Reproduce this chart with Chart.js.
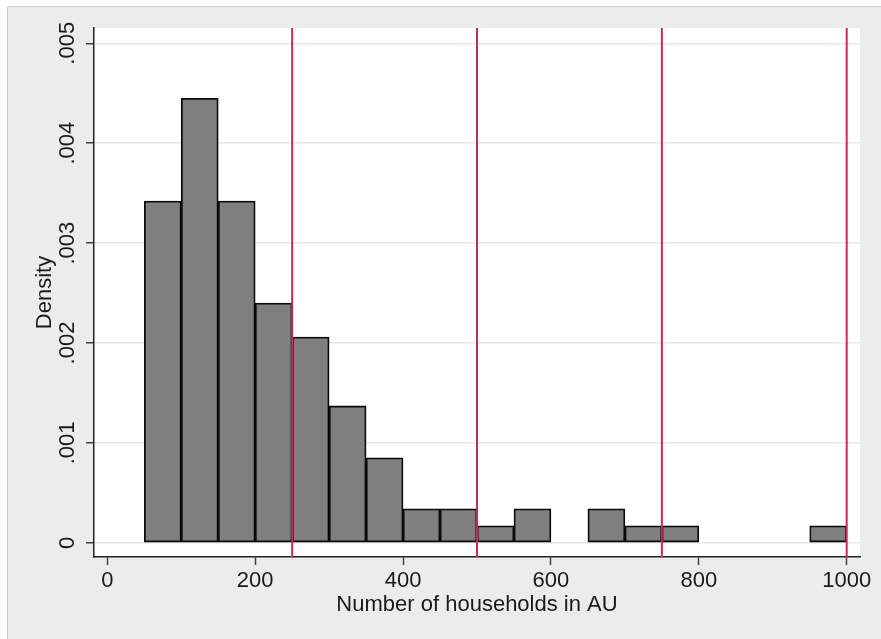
<!DOCTYPE html>
<html>
<head>
<meta charset="utf-8">
<script src="https://cdn.jsdelivr.net/npm/chart.js@4/dist/chart.umd.min.js"></script>
<style>
  html, body { margin: 0; padding: 0; background: #fff; }
  canvas { display: block; }
</style>
</head>
<body>
<canvas id="hist" width="881" height="639"></canvas>
<script>
// histogram bins (left edge, width 50) and their densities
const binLeft = [50, 100, 150, 200, 250, 300, 350, 400, 450, 500, 550, 600, 650, 700, 750, 800, 850, 900, 950];
const binWidth = 50;
const densities = [0.00342, 0.00445, 0.00342, 0.00240, 0.00206, 0.00137, 0.00085, 0.00034, 0.00034, 0.00017, 0.00034, 0, 0.00034, 0.00017, 0.00017, 0, 0, 0, 0.00017];

// vertical reference lines
const cutLines = [250, 500, 750, 1000];

// axes
const xTickValues = [0, 200, 400, 600, 800, 1000];
const xTickLabels = ['0', '200', '400', '600', '800', '1000'];
const yTickValues = [0, 0.001, 0.002, 0.003, 0.004, 0.005];
const yTickLabels = ['0', '.001', '.002', '.003', '.004', '.005'];

const FONT = '"Liberation Sans", Arial, Helvetica, sans-serif';
const TXT = '#1a1a1a';
const FSIZE = 22;
Chart.defaults.font.family = FONT;
Chart.defaults.color = TXT;

// gray frame + white plot region
const backdrop = {
    id: 'backdrop',
    beforeDraw(chart) {
        const {ctx, chartArea: a, width, height} = chart;
        ctx.save();
        ctx.fillStyle = '#fff';
        ctx.fillRect(0, 0, width, height);
        ctx.fillStyle = '#ececec';
        ctx.fillRect(7, 6, width - 7, height - 6);
        ctx.strokeStyle = '#cdcdcd';
        ctx.lineWidth = 1;
        ctx.beginPath();
        ctx.moveTo(7.5, height);
        ctx.lineTo(7.5, 6.5);
        ctx.lineTo(width, 6.5);
        ctx.stroke();
        ctx.fillStyle = '#fff';
        ctx.fillRect(a.left, a.top, a.right - a.left, a.bottom - a.top);
        ctx.restore();
    }
};

// red cut lines + rotated y tick labels
const overlay = {
    id: 'overlay',
    afterDatasetsDraw(chart) {
        const {ctx, chartArea: a, scales} = chart;
        ctx.save();
        ctx.strokeStyle = '#c8285a';
        ctx.lineWidth = 2;
        cutLines.forEach(v => {
            const px = scales.x.getPixelForValue(v);
            ctx.beginPath();
            ctx.moveTo(px, a.top);
            ctx.lineTo(px, a.bottom);
            ctx.stroke();
        });
        ctx.restore();
    },
    afterDraw(chart) {
        const {ctx, scales} = chart;
        const y = scales.y;
        ctx.save();
        ctx.fillStyle = TXT;
        ctx.font = FSIZE + 'px ' + FONT;
        ctx.textAlign = 'center';
        ctx.textBaseline = 'middle';
        yTickValues.forEach((v, i) => {
            ctx.save();
            ctx.translate(y.right - 26, y.getPixelForValue(v));
            ctx.rotate(-Math.PI / 2);
            ctx.fillText(yTickLabels[i], 0, 0);
            ctx.restore();
        });
        ctx.restore();
    }
};

const ctx = document.getElementById('hist').getContext('2d');
new Chart(ctx, {
    type: 'bar',
    data: {
        datasets: [{
            data: binLeft.map((l, i) => ({x: l + binWidth / 2, y: densities[i]})),
            backgroundColor: '#7f7f7f',
            borderColor: '#0a0a0a',
            borderWidth: 1.8,
            borderSkipped: false,
            barPercentage: 1,
            categoryPercentage: 1
        }]
    },
    options: {
        responsive: false,
        animation: false,
        layout: {padding: {top: 28, right: 21, left: 0, bottom: 0}},
        plugins: {legend: {display: false}, tooltip: {enabled: false}},
        scales: {
            x: {
                type: 'linear',
                offset: false,
                min: -18,
                max: 1018,
                afterBuildTicks: s => { s.ticks = xTickValues.map(v => ({value: v})); },
                afterFit: s => { s.height = 82; },
                ticks: {
                    font: {size: FSIZE}, color: TXT, padding: 3, maxRotation: 0,
                    callback: (v, i) => xTickLabels[i]
                },
                grid: {offset: false, drawOnChartArea: false, drawTicks: true, tickLength: 8, tickColor: '#444', tickWidth: 1.5},
                border: {color: '#222', width: 1.5},
                title: {display: true, text: 'Number of households in AU', font: {size: FSIZE}, color: TXT, padding: {top: 21, bottom: 21}}
            },
            y: {
                type: 'linear',
                min: -0.000142,
                max: 0.005153,
                afterBuildTicks: s => { s.ticks = yTickValues.map(v => ({value: v})); },
                afterFit: s => { s.width = 94; },
                ticks: {display: false},
                grid: {color: '#e8e8e8', lineWidth: 1.5, drawTicks: true, tickLength: 8, tickColor: '#444', tickWidth: 1.5},
                border: {color: '#222', width: 1.5},
                title: {display: true, text: 'Density', font: {size: FSIZE}, color: TXT, padding: {top: 32, bottom: 32}}
            }
        }
    },
    plugins: [backdrop, overlay]
});
</script>
</body>
</html>
